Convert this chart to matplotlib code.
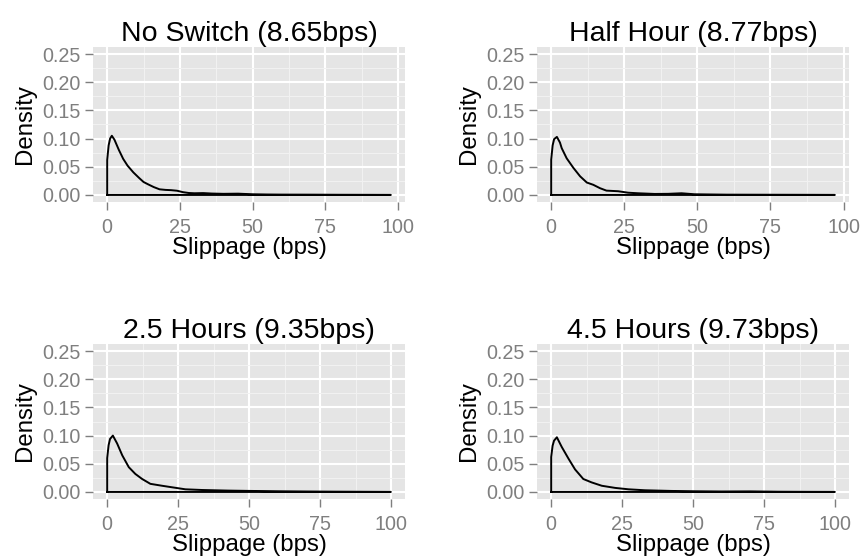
import matplotlib.pyplot as plt
from matplotlib.ticker import MultipleLocator, FormatStrFormatter

plt.rcParams['font.family'] = ['Liberation Sans', 'DejaVu Sans']

titles = ["No Switch (8.65bps)", "Half Hour (8.77bps)",
          "2.5 Hours (9.35bps)", "4.5 Hours (9.73bps)"]

# kernel density of slippage (bps), one curve per switching interval
x_none = [0, 0.5, 1, 1.6, 2.5, 4, 5.5, 7, 9, 11, 12.5, 14, 16, 18, 20, 22, 24,
          26, 28, 30, 33, 36, 40, 45, 50, 55, 60, 70, 80, 90, 97.5]
d_none = [0.062, 0.088, 0.100, 0.105, 0.098, 0.080, 0.064, 0.052, 0.040, 0.030,
          0.023, 0.019, 0.014, 0.010, 0.009, 0.0085, 0.0075, 0.005, 0.0035,
          0.003, 0.0033, 0.0025, 0.002, 0.0023, 0.0012, 0.0008, 0.0006,
          0.0005, 0.0003, 0.0002, 0.0001]

x_half = [0, 0.5, 1, 1.95, 3, 3.6, 5.3, 7.6, 9.9, 12.2, 14.4, 16.7, 18.9, 22.9,
          26.3, 29.7, 35.4, 40, 44.6, 49, 55, 60, 70, 80, 90, 97]
d_half = [0.0625, 0.088, 0.099, 0.103, 0.093, 0.083, 0.065, 0.048, 0.033,
          0.022, 0.018, 0.012, 0.0077, 0.0066, 0.004, 0.003, 0.0018, 0.002,
          0.003, 0.0012, 0.0008, 0.0005, 0.0004, 0.0003, 0.0002, 0.0001]

x_25h = [0, 0.5, 1, 2.0, 3.5, 5.3, 7.6, 9.9, 12.3, 15.2, 19.3, 22.8, 27.5, 33.3,
         42.6, 50.8, 60, 70, 80, 90, 99.8]
d_25h = [0.060, 0.083, 0.094, 0.100, 0.086, 0.065, 0.044, 0.032, 0.023, 0.0144,
         0.011, 0.0083, 0.0047, 0.0035, 0.0024, 0.0018, 0.0012, 0.0008, 0.0005,
         0.0003, 0.0001]

x_45h = [0, 0.5, 1, 2.0, 3.7, 6.1, 8.4, 11.3, 14.2, 17.8, 22.5, 27.2, 33, 42.3,
         50.5, 60, 70, 80, 90, 99.8]
d_45h = [0.062, 0.082, 0.091, 0.097, 0.080, 0.059, 0.040, 0.023, 0.017, 0.011,
         0.0072, 0.0047, 0.003, 0.0018, 0.0012, 0.0008, 0.0010, 0.0004, 0.0002,
         0.0001]

curves = [(x_none, d_none), (x_half, d_half), (x_25h, d_25h), (x_45h, d_45h)]

W, H = 860, 556
fig = plt.figure(figsize=(W / 100, H / 100), dpi=100)

# panel boxes in pixels: left, top, width, height
boxes = [(93, 47, 312, 155), (537, 47, 312, 155),
         (93, 344, 312, 155), (537, 344, 312, 155)]

grey50 = '#7f7f7f'
for (l, t, w, h), title, (xs, ds) in zip(boxes, titles, curves):
    ax = fig.add_axes([l / W, 1 - (t + h) / H, w / W, h / H])
    ax.set_facecolor('#e5e5e5')
    for s in ax.spines.values():
        s.set_visible(False)

    xmax = xs[-1]
    # outline of the density polygon: up the left edge, along the curve, back on the baseline
    px = [xs[0]] + list(xs) + [xmax, xs[0]]
    py = [0] + list(ds) + [0, 0]
    ax.plot(px, py, color='black', lw=1.4, solid_joinstyle='round', zorder=3)

    ax.set_xlim(-0.05 * xmax, 1.05 * xmax)
    ax.set_ylim(-0.0125, 0.2625)
    ax.set_xticks([0, 25, 50, 75, 100])
    ax.xaxis.set_minor_locator(MultipleLocator(12.5))
    ax.yaxis.set_major_locator(MultipleLocator(0.05))
    ax.yaxis.set_minor_locator(MultipleLocator(0.025))
    ax.yaxis.set_major_formatter(FormatStrFormatter('%.2f'))

    ax.grid(which='major', color='white', lw=1.5)
    ax.grid(which='minor', color='#f2f2f2', lw=0.7)
    ax.set_axisbelow(True)

    ax.tick_params(which='major', length=5.6, width=1.0, color=grey50,
                   labelcolor=grey50, labelsize=14.2)
    ax.tick_params(which='minor', length=0)
    ax.tick_params(axis='x', pad=5.6)
    ax.tick_params(axis='y', pad=3)

    ax.set_title(title, fontsize=20.5, pad=4.3)
    ax.set_xlabel('Slippage (bps)', fontsize=17.3, va='baseline')
    ax.xaxis.set_label_coords(0.5, -0.335)
    ax.set_ylabel('Density', fontsize=17.3, va='baseline')
    ax.yaxis.set_label_coords(-0.199, 0.5)

fig.savefig('out.png', dpi=100, facecolor='white')
